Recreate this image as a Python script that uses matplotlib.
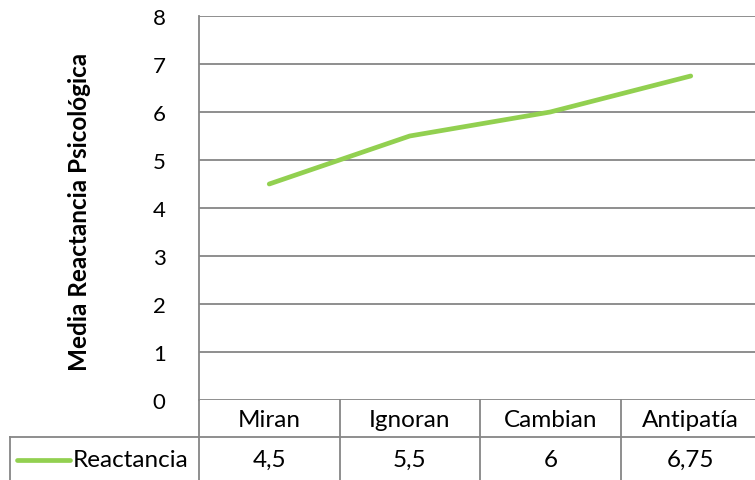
import matplotlib
matplotlib.use("Agg")
import matplotlib.pyplot as plt
from matplotlib.lines import Line2D

categories = ["Miran", "Ignoran", "Cambian", "Antipatía"]
values = [4.5, 5.5, 6.0, 6.75]
series_name = "Reactancia"
y_ticks = [0, 1, 2, 3, 4, 5, 6, 7, 8]
y_label = "Media Reactancia Psicológica"

W, H = 755, 481
LINE_COLOR = "#92D050"
GRID_COLOR = "#868686"
FONT = ["Lato", "DejaVu Sans"]
LINE_W = 3.4

plt.rcParams["font.family"] = FONT

fig = plt.figure(figsize=(W / 100, H / 100), dpi=100)

# plot area in pixels
left_px, right_px, top_px, bottom_px = 199, 761, 17, 401
ax = fig.add_axes([left_px / W, 1 - bottom_px / H,
                   (right_px - left_px) / W, (bottom_px - top_px) / H])

n = len(categories)
xs = [i + 0.5 for i in range(n)]
ax.plot(xs, values, color=LINE_COLOR, lw=LINE_W, solid_capstyle="round",
        solid_joinstyle="round", zorder=3)

ax.set_xlim(0, n)
ax.set_ylim(min(y_ticks), max(y_ticks))
ax.set_yticks(y_ticks)
ax.set_xticks([])
ax.yaxis.grid(True, color=GRID_COLOR, lw=1.3)
ax.set_axisbelow(True)
for s in ["top", "right", "bottom"]:
    ax.spines[s].set_visible(False)
ax.spines["left"].set_color(GRID_COLOR)
ax.spines["left"].set_linewidth(1.3)
ax.tick_params(axis="y", length=0, pad=24, labelsize=16)
ax.set_ylabel(y_label, fontsize=17.5, fontweight="bold")
ax.yaxis.set_label_coords((80 - left_px) / (right_px - left_px),
                          (bottom_px - 212) / (bottom_px - top_px))
ax.yaxis.label.set_va("center")

# data table below the plot
px_per_y = (bottom_px - top_px)
def ay(py):
    return (bottom_px - py) / px_per_y

def ax_x(px):
    return (px - left_px) / (right_px - left_px)

trans = ax.transAxes
lk = dict(color=GRID_COLOR, lw=1.3, transform=trans, clip_on=False)
header_bottom = 438
row_bottom = 484

# horizontal separator between header and values
ax.add_line(Line2D([ax_x(10), ax_x(760)], [ay(header_bottom)] * 2, **lk))
# vertical separators at category boundaries
for i in range(n + 1):
    xa = i / n
    ax.add_line(Line2D([xa, xa], [ay(bottom_px), ay(row_bottom)], **lk))
# left edge of series-name cell
ax.add_line(Line2D([ax_x(10), ax_x(10)], [ay(header_bottom), ay(row_bottom)], **lk))

header_y = ay((bottom_px + header_bottom) / 2 + 1)
value_y = ay((header_bottom + 481) / 2 + 1)
blend = matplotlib.transforms.blended_transform_factory(ax.transData, ax.transAxes)
TABLE_FS = 17.5
for x, c, v in zip(xs, categories, values):
    ax.text(x, header_y, c, transform=blend, ha="center", va="center",
            fontsize=TABLE_FS, clip_on=False)
    ax.text(x, value_y, f"{v:g}".replace(".", ","), transform=blend,
            ha="center", va="center", fontsize=TABLE_FS, clip_on=False)

# legend key and series name
ax.add_line(Line2D([ax_x(17), ax_x(70)], [value_y] * 2, color=LINE_COLOR, lw=LINE_W,
                   solid_capstyle="round", transform=trans, clip_on=False))
ax.text(ax_x(73), value_y, series_name, transform=trans, ha="left", va="center",
        fontsize=TABLE_FS, clip_on=False)

fig.savefig("out.png", dpi=100)
